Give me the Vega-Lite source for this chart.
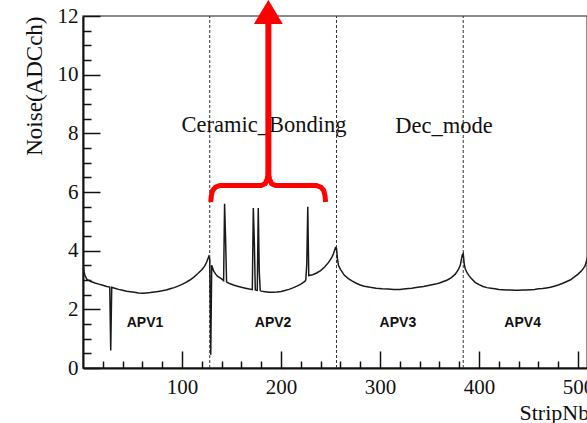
{
  "$schema": "https://vega.github.io/schema/vega-lite/v6.json",
  "width": 504,
  "height": 352,
  "autosize": {"type": "none"},
  "padding": {"left": 83, "top": 16, "right": 0, "bottom": 55},
  "background": "white",
  "config": {
    "view": {"stroke": "#666", "strokeWidth": 1.5},
    "axis": {"grid": false}
  },
  "resolve": {"axis": {"x": "independent", "y": "independent"}},
  "datasets": {
    "hist": [
      {"x":0,"y":3.55},{"x":1,"y":3.3},{"x":2,"y":3.15},{"x":4,"y":3.02},{"x":8,"y":2.95},{"x":12,"y":2.9},{"x":16,"y":2.86},{"x":20,"y":2.82},{"x":24,"y":2.78},{"x":27,"y":2.76},{"x":28,"y":0.6},{"x":29,"y":2.75},{"x":32,"y":2.72},{"x":36,"y":2.68},{"x":40,"y":2.65},{"x":44,"y":2.62},{"x":48,"y":2.6},{"x":52,"y":2.58},{"x":56,"y":2.56},{"x":60,"y":2.55},{"x":64,"y":2.56},{"x":68,"y":2.57},{"x":72,"y":2.59},{"x":76,"y":2.61},{"x":80,"y":2.63},{"x":84,"y":2.66},{"x":88,"y":2.7},{"x":92,"y":2.74},{"x":96,"y":2.79},{"x":100,"y":2.85},{"x":104,"y":2.92},{"x":108,"y":3.0},{"x":112,"y":3.1},{"x":116,"y":3.22},{"x":120,"y":3.35},{"x":123,"y":3.48},{"x":125,"y":3.62},{"x":127,"y":3.8},
      {"x":128,"y":3.72},{"x":129,"y":0.45},{"x":130,"y":3.5},{"x":131,"y":3.4},{"x":132,"y":3.3},{"x":134,"y":3.2},{"x":136,"y":3.12},{"x":140,"y":3.04},{"x":142,"y":2.98},{"x":143,"y":5.6},{"x":144,"y":4.4},{"x":145,"y":2.93},{"x":148,"y":2.88},{"x":152,"y":2.83},{"x":156,"y":2.79},{"x":160,"y":2.75},{"x":164,"y":2.72},{"x":168,"y":2.69},{"x":171,"y":2.67},{"x":172,"y":5.45},{"x":173,"y":4.35},{"x":174,"y":2.66},{"x":176,"y":2.65},{"x":177,"y":5.45},{"x":178,"y":3.3},{"x":179,"y":2.64},{"x":180,"y":2.62},{"x":184,"y":2.6},{"x":188,"y":2.58},{"x":192,"y":2.58},{"x":196,"y":2.59},{"x":200,"y":2.61},{"x":204,"y":2.64},{"x":208,"y":2.68},{"x":212,"y":2.73},{"x":216,"y":2.79},{"x":220,"y":2.86},{"x":224,"y":2.95},{"x":225,"y":3.0},{"x":226,"y":3.55},{"x":227,"y":5.5},{"x":228,"y":3.15},{"x":232,"y":3.18},{"x":236,"y":3.24},{"x":240,"y":3.32},{"x":244,"y":3.44},{"x":248,"y":3.6},{"x":251,"y":3.75},{"x":253,"y":3.9},{"x":255,"y":4.1},
      {"x":256,"y":4.08},{"x":257,"y":3.72},{"x":258,"y":3.5},{"x":260,"y":3.36},{"x":262,"y":3.26},{"x":264,"y":3.16},{"x":268,"y":3.05},{"x":272,"y":2.96},{"x":276,"y":2.89},{"x":280,"y":2.83},{"x":284,"y":2.79},{"x":290,"y":2.75},{"x":296,"y":2.72},{"x":302,"y":2.7},{"x":308,"y":2.69},{"x":314,"y":2.68},{"x":320,"y":2.68},{"x":326,"y":2.7},{"x":332,"y":2.72},{"x":338,"y":2.75},{"x":344,"y":2.78},{"x":350,"y":2.82},{"x":356,"y":2.86},{"x":360,"y":2.9},{"x":364,"y":2.95},{"x":368,"y":3.0},{"x":372,"y":3.08},{"x":376,"y":3.2},{"x":379,"y":3.35},{"x":381,"y":3.5},{"x":383,"y":3.85},
      {"x":384,"y":3.9},{"x":385,"y":3.55},{"x":386,"y":3.38},{"x":388,"y":3.24},{"x":390,"y":3.14},{"x":392,"y":3.06},{"x":396,"y":2.92},{"x":400,"y":2.84},{"x":404,"y":2.78},{"x":408,"y":2.74},{"x":412,"y":2.72},{"x":416,"y":2.7},{"x":420,"y":2.68},{"x":424,"y":2.67},{"x":428,"y":2.66},{"x":432,"y":2.66},{"x":436,"y":2.65},{"x":440,"y":2.65},{"x":444,"y":2.66},{"x":448,"y":2.66},{"x":452,"y":2.67},{"x":456,"y":2.68},{"x":460,"y":2.7},{"x":464,"y":2.71},{"x":468,"y":2.73},{"x":472,"y":2.75},{"x":476,"y":2.79},{"x":480,"y":2.83},{"x":484,"y":2.88},{"x":488,"y":2.94},{"x":492,"y":3.0},{"x":496,"y":3.1},{"x":500,"y":3.2},{"x":504,"y":3.33},{"x":507,"y":3.48},{"x":509,"y":3.7},{"x":511,"y":3.95}
    ],
    "bounds": [{"x":128,"y":0,"y2":12},{"x":256,"y":0,"y2":12},{"x":384,"y":0,"y2":12}],
    "modes": [{"x":182.8,"y":8.05,"t":"Ceramic_Bonding"},{"x":364.6,"y":8.0,"t":"Dec_mode"}],
    "apvs": [{"x":62.6,"y":1.4,"t":"APV1"},{"x":192,"y":1.4,"t":"APV2"},{"x":318,"y":1.4,"t":"APV3"},{"x":444,"y":1.4,"t":"APV4"}],
    "brace": [
      {"i":0,"x":129.0,"y":5.66},{"i":1,"x":129.6,"y":5.88},{"i":2,"x":131,"y":6.06},{"i":3,"x":134,"y":6.17},{"i":4,"x":138,"y":6.22},{"i":5,"x":180,"y":6.22},{"i":6,"x":184,"y":6.28},{"i":7,"x":186,"y":6.45},{"i":8,"x":187.2,"y":6.65},{"i":9,"x":188.4,"y":6.45},{"i":10,"x":190.4,"y":6.28},{"i":11,"x":194.4,"y":6.22},{"i":12,"x":236,"y":6.22},{"i":13,"x":240,"y":6.17},{"i":14,"x":243,"y":6.06},{"i":15,"x":244.4,"y":5.88},{"i":16,"x":245,"y":5.66}
    ],
    "shaft": [{"x":187.2,"y":6.6,"y2":11.75}],
    "head": [{"x":187.2,"y":12.14}]
  },
  "layer": [
    {
      "data": {"name": "bounds"},
      "mark": {"type": "rule", "color": "#333", "strokeWidth": 1, "strokeDash": [3, 2]},
      "encoding": {
        "x": {
          "field": "x", "type": "quantitative",
          "scale": {"domain": [0, 509], "nice": false, "zero": false},
          "axis": {
            "orient": "bottom", "title": null, "labels": false, "domain": false,
            "values": [20,40,60,80,120,140,160,180,220,240,260,280,320,340,360,380,420,440,460,480],
            "tickSize": -7, "tickColor": "#111", "tickWidth": 1.5
          }
        },
        "y": {
          "field": "y", "type": "quantitative",
          "scale": {"domain": [0, 12], "nice": false, "zero": false},
          "axis": {
            "orient": "left", "title": null, "labels": false, "domain": false,
            "values": [0.5,1,1.5,2.5,3,3.5,4.5,5,5.5,6.5,7,7.5,8.5,9,9.5,10.5,11,11.5],
            "tickSize": -8, "tickColor": "#111", "tickWidth": 1.5
          }
        },
        "y2": {"field": "y2"}
      }
    },
    {
      "data": {"name": "hist"},
      "mark": {"type": "line", "color": "#1a1a1a", "strokeWidth": 1.5, "clip": true},
      "encoding": {
        "x": {
          "field": "x", "type": "quantitative",
          "scale": {"domain": [0, 509], "nice": false, "zero": false},
          "axis": {
            "orient": "bottom",
            "title": "StripNb", "titleFont": "Liberation Serif", "titleFontSize": 22, "titleFontWeight": "normal", "titleColor": "#111",
            "titleAnchor": "start", "titleAlign": "left", "titleX": 436, "titleY": 51, "titleBaseline": "alphabetic",
            "values": [100, 200, 300, 400, 500],
            "labelFont": "Liberation Serif", "labelFontSize": 21, "labelColor": "#111", "labelPadding": 25,
            "labelFlush": false, "labelOverlap": false, "format": "d",
            "tickSize": -17, "tickColor": "#111", "tickWidth": 1.5,
            "domainColor": "#111", "domainWidth": 2
          }
        },
        "y": {
          "field": "y", "type": "quantitative",
          "scale": {"domain": [0, 12], "nice": false, "zero": false},
          "axis": {
            "orient": "left",
            "title": "Noise(ADCch)", "titleFont": "Liberation Serif", "titleFontSize": 23, "titleFontWeight": "normal", "titleColor": "#111",
            "titleAnchor": "end", "titleAlign": "right", "titleAngle": -90, "titleX": -49, "titleY": 0, "titleBaseline": "middle",
            "values": [0, 2, 4, 6, 8, 10, 12],
            "labelFont": "Liberation Serif", "labelFontSize": 21, "labelColor": "#111", "labelPadding": 22,
            "labelFlush": false, "labelOverlap": false, "format": "d",
            "tickSize": -17, "tickColor": "#111", "tickWidth": 1.5,
            "domainColor": "#111", "domainWidth": 2
          }
        }
      }
    },
    {
      "data": {"name": "modes"},
      "mark": {"type": "text", "font": "Liberation Serif", "fontSize": 22.5, "color": "#111", "align": "center", "baseline": "alphabetic"},
      "encoding": {
        "x": {"field": "x", "type": "quantitative", "axis": null},
        "y": {"field": "y", "type": "quantitative", "axis": null},
        "text": {"field": "t"}
      }
    },
    {
      "data": {"name": "apvs"},
      "mark": {"type": "text", "font": "Liberation Sans", "fontSize": 14, "fontWeight": "bold", "color": "#111", "align": "center", "baseline": "alphabetic"},
      "encoding": {
        "x": {"field": "x", "type": "quantitative", "axis": null},
        "y": {"field": "y", "type": "quantitative", "axis": null},
        "text": {"field": "t"}
      }
    },
    {
      "data": {"name": "brace"},
      "mark": {"type": "line", "color": "#ff0000", "strokeWidth": 5, "strokeJoin": "round", "clip": false},
      "encoding": {
        "x": {"field": "x", "type": "quantitative", "axis": null},
        "y": {"field": "y", "type": "quantitative", "axis": null},
        "order": {"field": "i"}
      }
    },
    {
      "data": {"name": "shaft"},
      "mark": {"type": "rule", "color": "#ff0000", "strokeWidth": 6, "clip": false},
      "encoding": {
        "x": {"field": "x", "type": "quantitative", "axis": null},
        "y": {"field": "y", "type": "quantitative", "axis": null},
        "y2": {"field": "y2"}
      }
    },
    {
      "data": {"name": "head"},
      "mark": {"type": "point", "shape": "M0,-1L1.2,1L-1.2,1Z", "size": 576, "filled": true, "color": "#ff0000", "opacity": 1, "strokeWidth": 0, "clip": false},
      "encoding": {
        "x": {"field": "x", "type": "quantitative", "axis": null},
        "y": {"field": "y", "type": "quantitative", "axis": null}
      }
    }
  ]
}
